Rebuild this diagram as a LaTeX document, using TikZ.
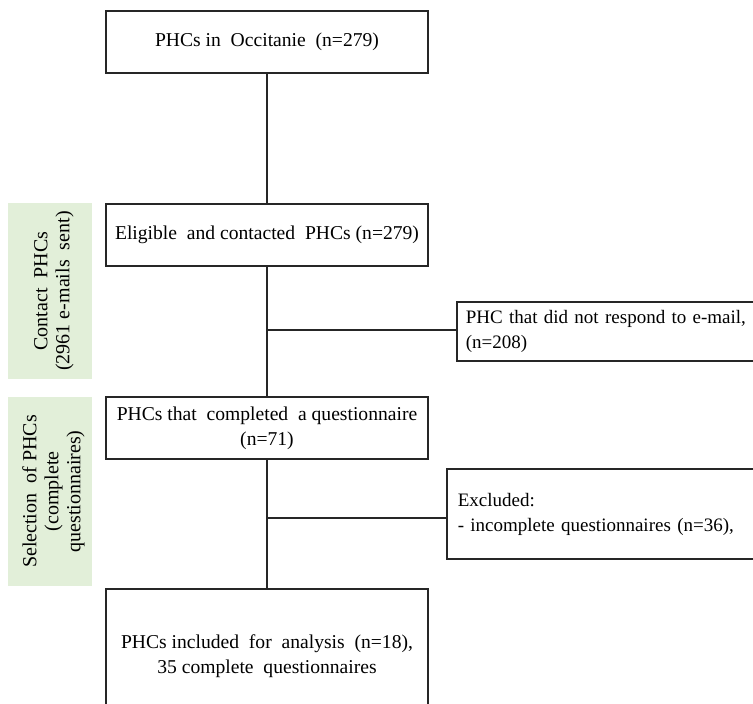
\documentclass[tikz,border=0pt]{standalone}
\usepackage{fontspec}
\setmainfont{Liberation Serif}
\begin{document}
\begin{tikzpicture}[x=1pt,y=-1pt,
  box/.style={draw=black!85,line width=1.5pt,fill=white,inner sep=0pt,align=center,
    font=\fontsize{19.6}{25}\selectfont},
  sidebox/.style={draw=black!85,line width=1.5pt,fill=white,inner ysep=0pt,anchor=west,
    align=left,font=\fontsize{19}{25}\selectfont},
  phase/.style={fill=phasegreen,draw=none,inner sep=0pt},
  phasetext/.style={rotate=90,inner sep=0pt,align=center,font=\fontsize{20}{22}\selectfont},
  link/.style={draw=black!85,line width=1.5pt}]
\definecolor{phasegreen}{RGB}{226,239,217}
\useasboundingbox (0,0) rectangle (753,704);
\clip (0,0) rectangle (753,704);
% green phase labels
\node[phase,minimum height=176pt,minimum width=84pt] (ph1) at (50,291) {};
\node[phasetext] (ph1t) at (54,291) {Contact \ PHCs\\(2961 e-mails \ sent)};
\node[phase,minimum height=189pt,minimum width=84pt] (ph2) at (50,491.5) {};
\node[phasetext] (ph2t) at (53.5,491.5) {Selection \ of PHCs\\(complete\\questionnaires)};
% main column
\node[box,minimum width=322pt,minimum height=62pt] (b1) at (267,42)
  {PHCs in \ Occitanie \ (n=279)};
\node[box,minimum width=322pt,minimum height=62pt] (b2) at (267,235)
  {Eligible \ and contacted \ PHCs (n=279)};
\node[box,minimum width=322pt,minimum height=62pt] (b3) at (267,428)
  {PHCs that \ completed \ a questionnaire\\(n=71)};
\node[box,minimum width=322pt,minimum height=134pt] (b4) at (267,656)
  {PHCs included \ for \ analysis \ (n=18),\\35 complete \ questionnaires};
% side boxes
\node[sidebox,inner xsep=9pt,minimum width=340pt,minimum height=59pt,text width=322pt] (s1) at (456,331.5)
  {PHC that did not respond to e-mail,\\(n=208)};
\node[sidebox,inner xsep=11pt,minimum width=350pt,minimum height=90pt,text width=328pt] (s2) at (446,514)
  {Excluded:\\- incomplete questionnaires (n=36),};
% connectors
\draw[link] (b1.south) -- (b2.north);
\draw[link] (b2.south) -- (b3.north);
\draw[link] (b3.south) -- (b4.north);
\coordinate (j1) at (b2.south |- 0,330);
\coordinate (j2) at (b3.south |- 0,518);
\draw[link] (j1) -- (s1.west |- j1);
\draw[link] (j2) -- (s2.west |- j2);
\end{tikzpicture}
\end{document}
